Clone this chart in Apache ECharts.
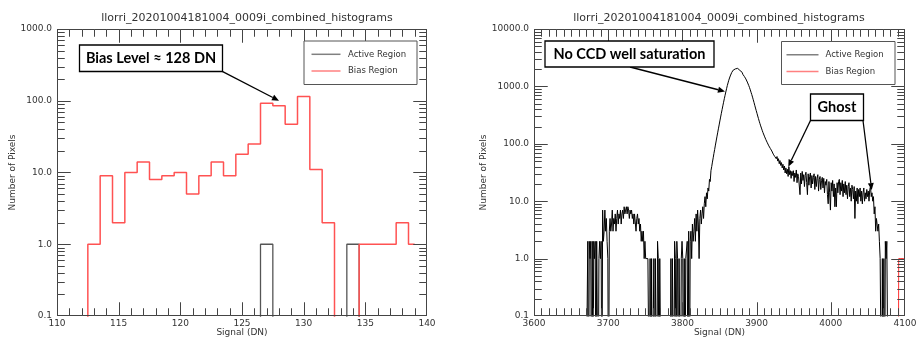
<!DOCTYPE html>
<html><head><meta charset="utf-8">
<script src="https://cdn.jsdelivr.net/npm/echarts@6/dist/echarts.min.js"></script>
<style>html,body{margin:0;padding:0;background:#fff}#c{width:920px;height:339px}</style>
</head><body><div id="c"></div>
<script>
// ---------------- DATA ----------------
const chartTitle = 'llorri_20201004181004_0009i_combined_histograms';
const legendNames = ['Active Region', 'Bias Region'];
const xName = 'Signal (DN)';
const yName = 'Number of Pixels';

// Left panel: 1-DN bins starting at 110
const leftStart = 110;
const leftActive = [0,0,0,0,0,0,0,0,0,0, 0,0,0,0,0,0,0,1,0,0, 0,0,0,0,1,0,0,0,0,0, 0];
const leftBias   = [0,0,0,1,9,2,10,14,8,9, 10,5,9,14,9,18,25,92,85,47, 115,11,2,0,0,1,1,1,2,1];

// Right panel: 1-DN bins, active region starting at 3670
const rightStart = 3670;
const rightActive = [
 0,0,0,2,0,2,1,2,0,2,        // 3670
 0,2,1,2,0,2,2,0,1,2,        // 3680
 1,2,0,7,2,3,7,3,5,2,        // 3690
 1,0,3,5,3,4,7,3,5,4,        // 3700
 6,3,5,7,4,6,5,7,4,6,        // 3710
 7,5,8,6,7,8,6,8,7,5,        // 3720
 7,6,7,5,6,4,6,6,3,5,        // 3730
 6,4,5,3,4,2,3,2,3,1,        // 3740
 2,1,1,1,1,1,0,1,0,1,        // 3750
 0,0,1,0,1,1,0,2,1,0,        // 3760
 1,1,0,0,0,0,0,0,0,0,        // 3770
 0,0,0,0,0,1,0,1,1,0,        // 3780
 2,1,0,2,1,0,1,1,0,1,        // 3790
 2,1,0,1,0,1,1,2,0,3,        // 3800
 0,2,3,1,4,2,3,5,2,6,        // 3810
 3,7,4,1,5,7,4,6,8,5,        // 3820
 9,12,8,14,11,17,15,24,22,34,           // 3830
 40,48,57,68,80,95,112,132,155,182,     // 3840
 213,250,292,340,395,458,530,610,700,800, // 3850
 910,1030,1150,1280,1400,1520,1640,1750,1840,1920, // 3860
 1980,2020,2050,2060,2060,2040,2010,1960,1900,1830, // 3870
 1760,1690,1620,1560,1490,1420,1350,1270,1190,1110, // 3880
 1030,950,870,790,720,650,585,525,470,420, // 3890
 378,340,305,275,248,225,205,188,172,158,  // 3900
 146,136,126,118,110,104,97,92,88,83,      // 3910
 80,75,73,66,70,60,64,55,60,50,            // 3920
 55,45,51,42,47,38,44,35,41,31,            // 3930
 38,30,36,27,40,29,34,25,33,28,            // 3940
 34,22,31,26,35,21,30,27,25,13,            // 3950
 31,20,33,23,29,18,28,32,21,13,            // 3960
 30,19,27,31,17,28,20,26,30,16,            // 3970
 27,18,25,29,15,24,27,16,23,26,            // 3980
 17,25,14,22,19,24,13,9,22,14,             // 3990
 7,21,15,23,12,20,8,17,8,21,               // 4000
 14,22,24,13,21,15,23,12,20,14,            // 4010
 22,13,19,11,18,21,12,17,10,19,            // 4020
 16,11,18,5,15,10,17,9,16,12,              // 4030
 17,10,15,9,14,17,10,14,11,16,             // 4040
 12,15,10,16,18,12,14,10,12,6,             // 4050
 8,3,5,5,3,4,2,1,1,0,                      // 4060
 1,0,1,0,2,1,2,2,0,0                       // 4070
];
const rightBiasStart = 4088;
const rightBias = [0,0,0,0,1,1,1,1,1,1,1,1,1];

// axis ticks
const leftXTicks = {min:110, max:140, step:5, split:5};
const rightXTicks = {min:3600, max:4100, step:100, split:10};
const leftYRange = [0.1, 1000];
const rightYRange = [0.1, 10000];
const leftMajorY = [0.1, 1, 10, 100, 1000];
const rightMajorY = [0.1, 1, 10, 100, 1000, 10000];
const leftMinorY = [0.2,0.3,0.4,0.5,0.6,0.7,0.8,0.9, 2,3,4,5,6,7,8,9, 20,30,40,50,60,70,80,90, 200,300,400,500,600,700,800,900];
const rightMinorY = leftMinorY.concat([2000,3000,4000,5000,6000,7000,8000,9000]);

// annotations
const leftNote = 'Bias Level ≈ 128 DN';
const rightNote = 'No CCD well saturation';
const ghostNote = 'Ghost';
const leftNoteTip = [128, 100];
const rightNoteTip = [3857.4, 815];
const ghostTips = [[3942.7, 40], [4055.1, 15.7]];

// ---------------- BUILD ----------------
const FLOOR = 1e-3; // zero counts drawn below the log axis floor (clipped)
function toPairs(start, arr){ return arr.map((v,i)=>[start+i, v>0?v:FLOOR]); }

const FONT = 'DejaVu Sans';
const AX = '#444';
const labelStyle = {fontSize:9, color:'#333', fontFamily:FONT};

function xAx(grid, t, pos){
  const a = {gridIndex:grid, type:'value', min:t.min, max:t.max, interval:t.step, position:pos,
    axisLine:{show:false}, axisTick:{show:false}, minorTick:{show:false},
    splitLine:{show:false}, minorSplitLine:{show:false},
    axisLabel:{show:pos==='bottom', margin:3, formatter:v=>String(v), ...labelStyle}};
  if(pos==='bottom'){ Object.assign(a,{name:xName, nameLocation:'middle', nameGap:12, nameMoveOverlap:false, nameTextStyle:{...labelStyle}}); }
  return a;
}
function yAx(grid, r, pos, gap){
  const a = {gridIndex:grid, type:'log', logBase:10, min:r[0], max:r[1], position:pos,
    axisLine:{show:false}, axisTick:{show:false}, minorTick:{show:false}, splitLine:{show:false},
    axisLabel:{show:pos==='left', margin:5, formatter:v=>Number(v).toFixed(1), ...labelStyle}};
  if(pos==='left'){ Object.assign(a,{name:yName, nameLocation:'middle', nameGap:gap, nameMoveOverlap:false, nameRotate:90, nameTextStyle:{...labelStyle}}); }
  return a;
}
function hist(name, xi, yi, data, color, w, z){
  return {name, type:'line', xAxisIndex:xi, yAxisIndex:yi, step:'middle', symbol:'none', clip:true, z,
    data, lineStyle:{color, width:w}, itemStyle:{color}, emphasis:{disabled:true}};
}

const chart = echarts.init(document.getElementById('c'), null, {renderer:'canvas'});
chart.setOption({
  animation:false, backgroundColor:'#fff',
  title:[
    {text:chartTitle, left:242, top:8, textAlign:'center', textStyle:{fontSize:11, fontWeight:'normal', color:'#333', fontFamily:FONT}},
    {text:chartTitle, left:714, top:8, textAlign:'center', textStyle:{fontSize:11, fontWeight:'normal', color:'#333', fontFamily:FONT}}
  ],
  grid:[
    {left:57, top:29, width:370, height:287, outerBoundsMode:'none', containLabel:false},
    {left:534, top:29, width:371, height:287, outerBoundsMode:'none', containLabel:false}
  ],
  xAxis:[ xAx(0,leftXTicks,'bottom'), xAx(0,leftXTicks,'top'), xAx(1,rightXTicks,'bottom'), xAx(1,rightXTicks,'top') ],
  yAxis:[ yAx(0,leftYRange,'left',40), yAx(0,leftYRange,'right'), yAx(1,rightYRange,'left',46), yAx(1,rightYRange,'right') ],
  series:[
    hist('Bias Region', 0, 0, toPairs(leftStart, leftBias), '#ff5252', 1.5, 3),
    hist('Active Region', 0, 0, toPairs(leftStart, leftActive), '#555', 1.3, 2),
    hist('Active Region', 2, 2, toPairs(rightStart, rightActive), '#000', 1, 2),
    hist('Bias Region', 2, 2, toPairs(rightBiasStart, rightBias), '#ff3030', 1, 3)
  ]
});

// ---------------- FRAME + INSIDE TICKS: one polyline per panel ----------------
function framePolyline(xi, yi, xt, yr, yMajor, yMinor){
  const f = {xAxisIndex:xi, yAxisIndex:yi};
  const toPx = (x, y)=>{ const p = chart.convertToPixel(f, [x, y]); return [p[0], p[1]]; };
  const p0 = toPx(xt.min, yr[0]), p1 = toPx(xt.max, yr[1]);
  const L = Math.round(p0[0]) + 0.5, B = Math.round(p0[1]) - 0.5;
  const R = Math.round(p1[0]) - 0.5, T = Math.round(p1[1]) + 0.5;
  const nMinor = Math.round((xt.max-xt.min)/xt.step*xt.split);
  const xs = [];
  for(let k=0;k<=nMinor;k++){
    const v = xt.min + k*xt.step/xt.split;
    xs.push([Math.min(Math.max(Math.round(toPx(v, yr[0])[0]) + 0.5, L), R), (k % xt.split === 0) ? 13 : 7]);
  }
  const ys = [];
  yMajor.forEach(v=>ys.push([Math.round(toPx(xt.min, v)[1]) + 0.5, 13]));
  yMinor.forEach(v=>ys.push([Math.round(toPx(xt.min, v)[1]) + 0.5, 7]));
  ys.forEach(t=>{ t[0] = Math.min(Math.max(t[0], T), B); });
  ys.sort((a,b)=>b[0]-a[0]); // bottom to top
  const pts = [[L, B]];
  xs.forEach(([x, len])=>{ pts.push([x, B], [x, B-len], [x, B]); });           // bottom, left->right
  pts.push([R, B]);
  ys.forEach(([y, len])=>{ pts.push([R, y], [R-len, y], [R, y]); });           // right, bottom->top
  pts.push([R, T]);
  xs.slice().reverse().forEach(([x, len])=>{ pts.push([x, T], [x, T+len], [x, T]); }); // top, right->left
  pts.push([L, T]);
  ys.slice().reverse().forEach(([y, len])=>{ pts.push([L, y], [L+len, y], [L, y]); }); // left, top->bottom
  pts.push([L, B]);
  return {type:'polyline', z:30, shape:{points:pts}, style:{stroke:AX, lineWidth:1, fill:null, lineJoin:'bevel', lineCap:'butt'}};
}

// ---------------- ANNOTATIONS ----------------
function arrow(x1,y1,x2,y2){
  const a = Math.atan2(y2-y1, x2-x1), L=7, W=3;
  const bx = x2-L*Math.cos(a), by = y2-L*Math.sin(a);
  const px = -Math.sin(a)*W, py = Math.cos(a)*W;
  return [
    {type:'line', z:50, shape:{x1,y1,x2:bx,y2:by}, style:{stroke:'#000', lineWidth:1.3}},
    {type:'polygon', z:50, shape:{points:[[x2,y2],[bx+px,by+py],[bx-px,by-py]]}, style:{fill:'#000'}}
  ];
}
function box(x,y,w,h,text){
  return [
    {type:'rect', z:51, shape:{x,y,width:w,height:h}, style:{fill:'#fff', stroke:'#000', lineWidth:1.3}},
    {type:'text', z:52, x:x+w/2, y:y+h/2+0.5, style:{text, fontSize:14.5, fontWeight:'bold', fontFamily:'Lato', fill:'#000', align:'center', verticalAlign:'middle'}}
  ];
}
function legendBox(x,y,w,h,lx1,lx2,tx){
  const y1 = y+13.3, y2 = y+30;
  return [
    {type:'rect', z:40, shape:{x,y,width:w,height:h}, style:{fill:'#fff', stroke:'#555', lineWidth:1}},
    {type:'line', z:41, shape:{x1:lx1,y1:y1,x2:lx2,y2:y1}, style:{stroke:'#808080', lineWidth:1.5}},
    {type:'line', z:41, shape:{x1:lx1,y1:y2,x2:lx2,y2:y2}, style:{stroke:'#ff8080', lineWidth:1.5}},
    {type:'text', z:41, x:tx, y:y1, style:{text:legendNames[0], fontSize:8.5, fontFamily:FONT, fill:'#333', align:'left', verticalAlign:'middle'}},
    {type:'text', z:41, x:tx, y:y2, style:{text:legendNames[1], fontSize:8.5, fontFamily:FONT, fill:'#333', align:'left', verticalAlign:'middle'}}
  ];
}
const pL = chart.convertToPixel({xAxisIndex:0, yAxisIndex:0}, leftNoteTip);
const pR = chart.convertToPixel({xAxisIndex:2, yAxisIndex:2}, rightNoteTip);
const pG1 = chart.convertToPixel({xAxisIndex:2, yAxisIndex:2}, ghostTips[0]);
const pG2 = chart.convertToPixel({xAxisIndex:2, yAxisIndex:2}, ghostTips[1]);

const g = [].concat(
  [framePolyline(0, 0, leftXTicks, leftYRange, leftMajorY, leftMinorY),
   framePolyline(2, 2, rightXTicks, rightYRange, rightMajorY, rightMinorY)],
  legendBox(304, 41, 113, 43.5, 311.5, 340.5, 348),
  legendBox(781.5, 41.5, 113.5, 43, 786.5, 818.5, 825.5),
  arrow(222.7, 71.7, pL[0], pL[1]),
  box(79.5, 45, 143, 26.5, leftNote),
  arrow(630, 67, pR[0], pR[1]),
  box(545, 41, 169, 26, rightNote),
  arrow(810.5, 120.5, pG1[0], pG1[1]),
  arrow(863, 120.5, pG2[0], pG2[1]),
  box(810.5, 94, 53, 26.5, ghostNote)
);
chart.setOption({graphic: g});
</script></body></html>
